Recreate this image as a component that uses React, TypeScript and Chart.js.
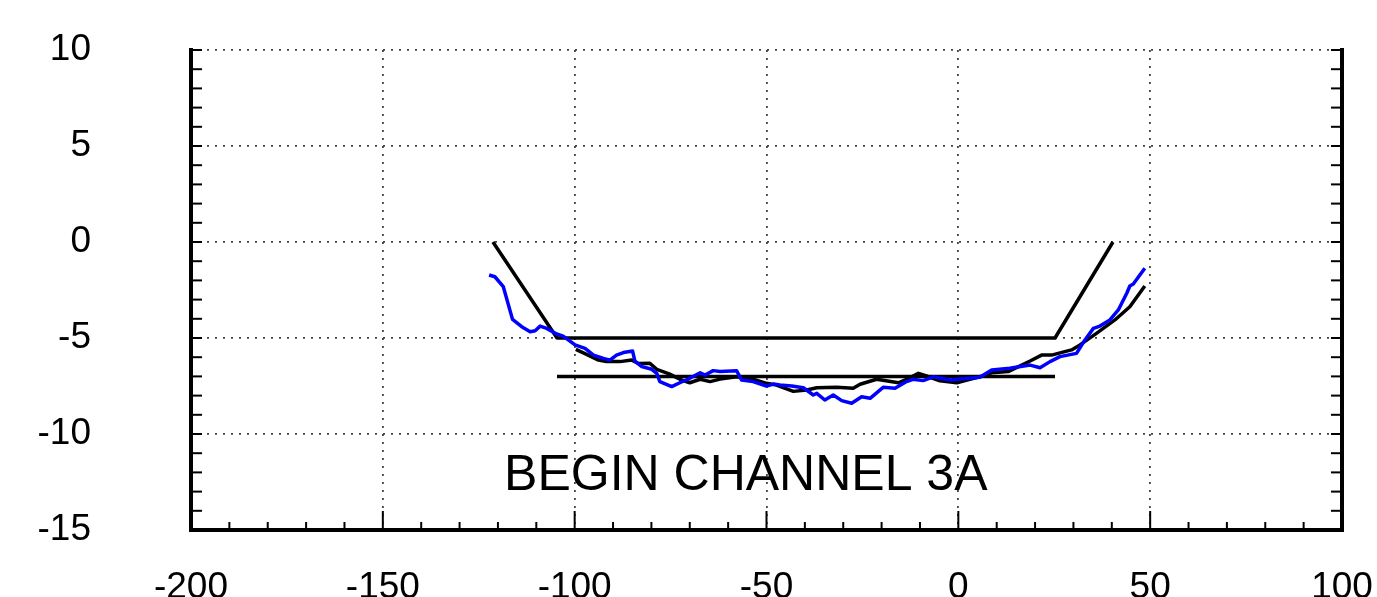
import React, { useEffect, useRef } from 'react';
import { Chart, registerables } from 'chart.js';

Chart.register(...registerables);

const X_MIN = -200;
const X_MAX = 100;
const Y_MIN = -15;
const Y_MAX = 10;
const X_STEP = 50;
const Y_STEP = 5;

const TITLE = 'BEGIN CHANNEL 3A';
const TITLE_X = -55.4;
const TITLE_Y = -12.9;

// Design channel section (trapezoid)
const designX = [-121.3, -104.6, 25.2, 40.3];
const designY = [0, -5, -5, 0];

// Target grade line
const targetX = [-104.6, 25.2];
const targetY = [-7, -7];

// Survey (blue)
const surveyX = [-122.3, -120.8, -118.6, -116.2, -113.8, -111.6, -110.3, -109.0, -107.3, -104.7, -103.0, -99.9, -97.3, -95.1, -92.5, -90.8, -89.1, -87.3, -84.9, -84.3, -82.5, -79.9, -78.6, -77.8, -74.7, -72.6, -70.0, -67.3, -66.0, -63.9, -62.1, -57.8, -56.5, -53.5, -50.0, -48.2, -46.5, -43.4, -40.4, -37.8, -36.9, -34.8, -32.6, -30.4, -27.8, -25.2, -23.0, -19.6, -16.5, -13.5, -11.8, -9.2, -6.5, -2.2, 5.6, 8.7, 13.4, 18.7, 21.3, 23.9, 26.5, 30.8, 33.0, 35.2, 36.9, 39.5, 41.7, 43.9, 44.7, 45.6, 48.6];
const surveyY = [-1.72, -1.81, -2.33, -4.03, -4.41, -4.67, -4.62, -4.38, -4.5, -4.79, -4.9, -5.36, -5.54, -5.89, -6.06, -6.15, -5.89, -5.76, -5.68, -6.2, -6.49, -6.63, -6.84, -7.27, -7.53, -7.33, -7.1, -6.81, -6.93, -6.7, -6.75, -6.7, -7.19, -7.27, -7.5, -7.4, -7.45, -7.5, -7.59, -7.97, -7.88, -8.23, -7.97, -8.26, -8.4, -8.06, -8.14, -7.57, -7.62, -7.27, -7.15, -7.22, -7.02, -7.19, -7.05, -6.67, -6.58, -6.41, -6.55, -6.23, -5.97, -5.8, -5.1, -4.5, -4.38, -4.06, -3.54, -2.67, -2.29, -2.19, -1.37];

// Second profile (black)
const fitX = [-99.7, -96.9, -93.8, -91.7, -88.2, -85.1, -83.4, -80.4, -78.6, -75.2, -72.6, -70.0, -67.3, -64.7, -62.1, -57.8, -53.5, -50.0, -47.4, -43.0, -39.5, -36.9, -31.7, -27.4, -25.6, -21.3, -15.6, -13.5, -10.4, -8.3, -4.8, -0.4, 3.0, 7.4, 8.7, 13.0, 18.7, 21.7, 24.3, 29.5, 31.7, 36.0, 40.8, 44.7, 48.6];
const fitY = [-5.59, -5.85, -6.15, -6.23, -6.23, -6.15, -6.33, -6.32, -6.63, -6.88, -7.15, -7.33, -7.15, -7.27, -7.14, -7.02, -7.15, -7.36, -7.45, -7.78, -7.71, -7.59, -7.57, -7.62, -7.41, -7.15, -7.33, -7.15, -6.84, -6.98, -7.23, -7.33, -7.15, -6.93, -6.81, -6.75, -6.2, -5.89, -5.89, -5.62, -5.36, -4.76, -4.06, -3.37, -2.29];

const toPts = (xs: number[], ys: number[]) => xs.map((x, i) => ({ x, y: ys[i] }));

const FONT = '"Liberation Sans", Arial, sans-serif';

const framePlugin = {
  id: 'frame',
  beforeDatasetsDraw(chart: any) {
    const { ctx, scales } = chart;
    const px = scales.x.getPixelForValue(TITLE_X);
    const py = scales.y.getPixelForValue(TITLE_Y);
    ctx.save();
    ctx.fillStyle = '#000';
    ctx.font = `50px ${FONT}`;
    ctx.textAlign = 'center';
    ctx.textBaseline = 'alphabetic';
    ctx.fillText(TITLE, px, py);
    ctx.restore();
  },
  afterDraw(chart: any) {
    const { ctx, chartArea, scales } = chart;
    const { left, right, top, bottom } = chartArea;
    const xs = scales.x;
    const ys = scales.y;
    const line = (x1: number, y1: number, x2: number, y2: number) => {
      ctx.beginPath();
      ctx.moveTo(x1, y1);
      ctx.lineTo(x2, y2);
      ctx.stroke();
    };
    ctx.save();
    ctx.strokeStyle = '#000';
    ctx.lineCap = 'butt';
    ctx.lineWidth = 2;
    for (let v = Y_MIN; v <= Y_MAX; v += 1) {
      const p = ys.getPixelForValue(v);
      line(left, p, left + 11, p);
      line(right - 11, p, right, p);
    }
    for (let v = X_MIN; v <= X_MAX; v += 10) {
      const p = xs.getPixelForValue(v);
      const len = v % X_STEP === 0 ? 19 : 8;
      line(p, bottom, p, bottom - len);
    }
    ctx.lineWidth = 4;
    ctx.lineCap = 'square';
    line(left, top, left, bottom);
    line(left, bottom, right, bottom);
    line(right, top, right, bottom);
    ctx.restore();
  },
};

export default function App() {
  const ref = useRef<HTMLCanvasElement>(null);
  useEffect(() => {
    if (!ref.current) return;
    const chart = new Chart(ref.current, {
      type: 'line',
      data: {
        datasets: [
          { data: toPts(surveyX, surveyY), borderColor: '#0000ff', borderWidth: 3.5 },
          { data: toPts(fitX, fitY), borderColor: '#000', borderWidth: 3.5 },
          { data: toPts(designX, designY), borderColor: '#000', borderWidth: 3.5 },
          { data: toPts(targetX, targetY), borderColor: '#000', borderWidth: 3.5 },
        ] as any,
      },
      options: {
        animation: false,
        responsive: false,
        devicePixelRatio: 1,
        elements: { point: { radius: 0 }, line: { tension: 0, fill: false, borderJoinStyle: 'round' } },
        layout: { padding: { top: 50, right: 35, left: 0, bottom: 0 } },
        plugins: { legend: { display: false }, tooltip: { enabled: false }, title: { display: false } },
        scales: {
          x: {
            type: 'linear',
            min: X_MIN,
            max: X_MAX,
            afterFit: (s: any) => { s.height = 67; s.paddingLeft = 0; s.paddingRight = 0; },
            ticks: { stepSize: X_STEP, color: '#000', font: { family: FONT, size: 37 }, padding: 36, maxRotation: 0, autoSkip: false },
            grid: { color: '#444', lineWidth: 1.8, drawTicks: false },
            border: { display: false, dash: [2, 6] },
          },
          y: {
            type: 'linear',
            min: Y_MIN,
            max: Y_MAX,
            afterFit: (s: any) => { s.width = 191; s.paddingTop = 0; s.paddingBottom = 0; },
            ticks: { stepSize: Y_STEP, color: '#000', font: { family: FONT, size: 37 }, padding: 100 },
            grid: { color: '#444', lineWidth: 1.8, drawTicks: false },
            border: { display: false, dash: [2, 6] },
          },
        },
      } as any,
      plugins: [framePlugin],
    });
    return () => chart.destroy();
  }, []);
  return (
    <div style={{ position: 'absolute', left: 0, top: 0, width: 1377, height: 597, background: '#fff' }}>
      <canvas ref={ref} width={1377} height={597} style={{ display: 'block' }} />
    </div>
  );
}
